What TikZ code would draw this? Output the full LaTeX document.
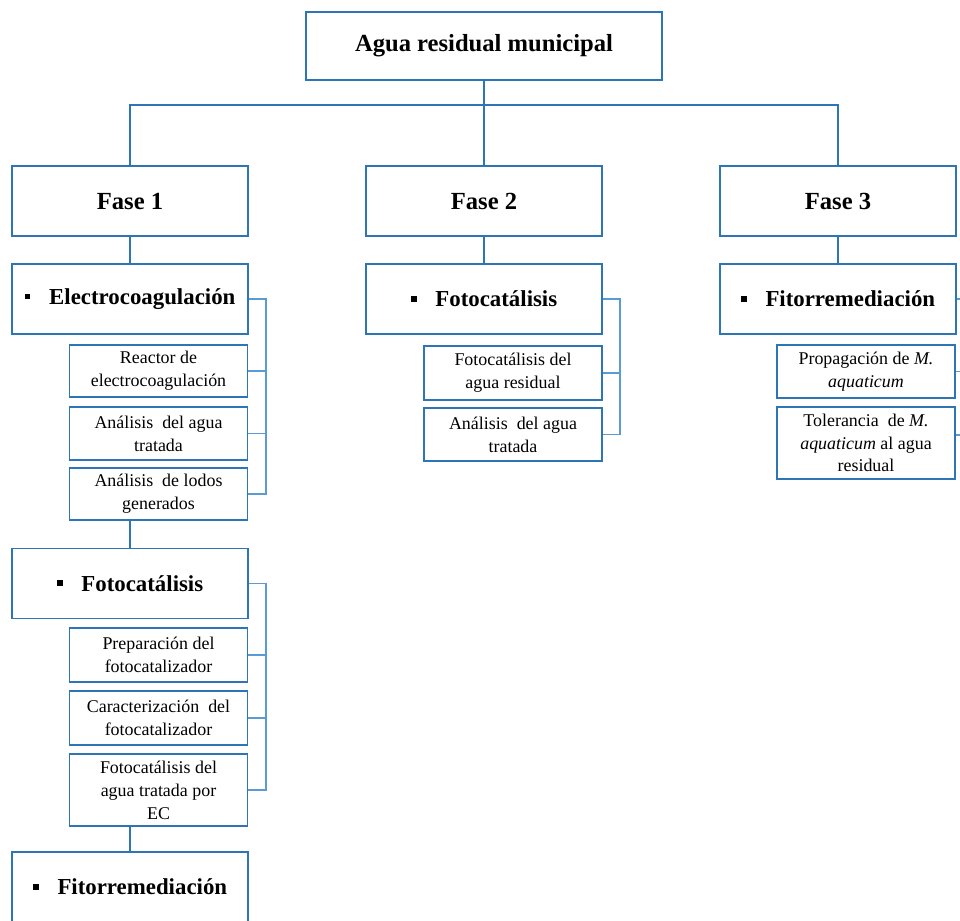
\documentclass[tikz,border=0pt]{standalone}
\usepackage{fontspec}
\setmainfont{Liberation Serif}
\usetikzlibrary{positioning}
\definecolor{boxblue}{RGB}{46,117,182}
\definecolor{brackblue}{RGB}{91,155,213}
\newcommand{\itembullet}{\rule[0.22em]{5pt}{5pt}\hspace{16pt}}

\begin{document}
\begin{tikzpicture}[x=0.03cm, y=-0.03cm,
  box/.style={draw=boxblue, line width=1.4pt, fill=white, align=center, inner sep=2pt},
  rootbox/.style={box, minimum width=10.68cm, minimum height=2.04cm, font=\fontsize{21}{25}\selectfont\bfseries},
  fasebox/.style={box, minimum width=7.08cm, minimum height=2.1cm, font=\fontsize{21}{25}\selectfont\bfseries},
  stagebox/.style={fasebox, font=\fontsize{19.5}{23}\selectfont\bfseries},
  taskbox/.style={box, minimum width=5.34cm, font=\fontsize{15.3}{19.5}\selectfont},
  link/.style={draw=boxblue, line width=1.4pt},
  brack/.style={draw=brackblue, line width=1pt}]
\useasboundingbox (0,0) rectangle (960,920);
\clip (0,0) rectangle (960,920);

%--- raiz y fases ---
\node[rootbox] (root) at (484,46) {Agua residual municipal};
\node[fasebox] (fase1) at (130,201) {Fase 1};
\node[fasebox] (fase2) at (484,201) {Fase 2};
\node[fasebox] (fase3) at (838,201) {Fase 3};
\coordinate (split) at (484,105);
\draw[link] (root.south) -- (split) -| (fase1.north);
\draw[link] (split) -| (fase3.north);
\draw[link] (split) -- (fase2.north);

%--- Fase 1 ---
\node[stagebox] (electro) at (130,299) {\itembullet Electrocoagulación};
\node[taskbox, minimum height=1.56cm] (reactor) at (158.5,371) {Reactor de\\electrocoagulación};
\node[taskbox, minimum height=1.59cm] (anagua1) at (158.5,433.5) {Análisis\ \ del agua\\tratada};
\node[taskbox, minimum height=1.56cm] (lodos) at (158.5,494) {Análisis\ \ de lodos\\generados};
\node[stagebox] (foto1) at (130,583.5) {\itembullet Fotocatálisis};
\node[taskbox, minimum height=1.62cm] (prep) at (158.5,655) {Preparación del\\fotocatalizador};
\node[taskbox, minimum height=1.62cm] (caract) at (158.5,718) {Caracterización\ \ del\\fotocatalizador};
\node[taskbox, minimum height=2.16cm] (fotoec) at (158.5,790) {Fotocatálisis del\\agua tratada por\\EC};
\node[stagebox] (fito1) at (130,887) {\itembullet Fitorremediación};
\draw[link] (fase1.south) -- (electro.north);
\draw[link] (foto1.north |- lodos.south) -- (foto1.north);
\draw[link] (fito1.north |- fotoec.south) -- (fito1.north);
\coordinate (brk1) at (266,0);
\draw[brack] (electro.east) -| (brk1 |- lodos.east) -- (lodos.east);
\foreach \t in {reactor,anagua1}
  \draw[brack] (\t.east) -- (\t.east -| brk1);
\draw[brack] (foto1.east) -| (brk1 |- fotoec.east) -- (fotoec.east);
\foreach \t in {prep,caract}
  \draw[brack] (\t.east) -- (\t.east -| brk1);

%--- Fase 2 ---
\node[stagebox] (foto2) at (484,299) {\itembullet Fotocatálisis};
\node[taskbox, minimum height=1.62cm] (fotoar) at (513,373) {Fotocatálisis del\\agua residual};
\node[taskbox, minimum height=1.59cm] (anagua2) at (513,434.5) {Análisis\ \ del agua\\tratada};
\draw[link] (fase2.south) -- (foto2.north);
\coordinate (brk2) at (620,0);
\draw[brack] (foto2.east) -| (brk2 |- anagua2.east) -- (anagua2.east);
\draw[brack] (fotoar.east) -- (fotoar.east -| brk2);

%--- Fase 3 ---
\node[stagebox] (fito3) at (838,299) {\itembullet Fitorremediación};
\node[taskbox, minimum height=1.59cm] (prop) at (866,371.5) {Propagación de \emph{M.}\\\emph{aquaticum}};
\node[taskbox, minimum height=2.16cm] (toler) at (866,443) {Tolerancia\ \ de \emph{M.}\\\emph{aquaticum} al agua\\residual};
\draw[link] (fase3.south) -- (fito3.north);
\coordinate (brk3) at (975,0);
\coordinate (tolerin) at ([yshift=0.24cm]toler.east);
\draw[brack] (fito3.east) -| (brk3 |- tolerin) -- (tolerin);
\draw[brack] (prop.east) -- (prop.east -| brk3);
\end{tikzpicture}
\end{document}
